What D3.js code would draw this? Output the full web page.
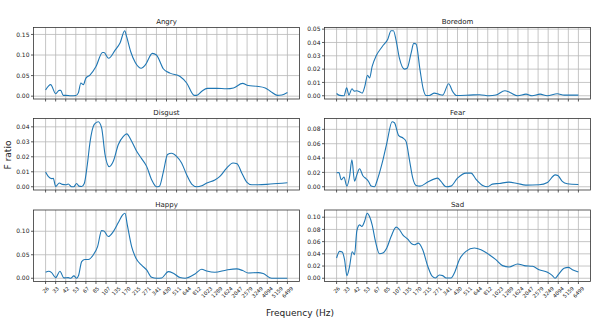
<!DOCTYPE html>
<html lang="en">
<head>
    <meta charset="UTF-8">
    <title>F ratio by frequency</title>
    <style>
        body { margin: 0; background: #ffffff; }
        svg { display: block; font-family: "DejaVu Sans", sans-serif; }
    </style>
    <script src="https://d3js.org/d3.v7.min.js"></script>
</head>
<body>
    <svg width="600" height="320"></svg>
    <script>
        // frequency band labels (evenly spaced on the x axis)
        const freqLabels = ["26", "33", "42", "53", "67", "85", "107", "135", "170", "215", "271", "341",
            "430", "511", "644", "812", "1023", "1289", "1624", "2047", "2579", "3249", "4094", "5159", "6499"];

        // each series: [band position, F ratio]
        const angry = [[0,0.015],[0.5,0.028],[1,0.006],[1.35,0.014],[1.5,0.014],[1.75,0.002],[2,0.002],[2.5,0.001],
            [3,0.0015],[3.25,0.008],[3.5,0.032],[3.75,0.028],[4,0.044],[4.4,0.051],[5,0.072],[5.65,0.106],[5.8,0.106],
            [6.25,0.092],[6.9,0.112],[7.4,0.13],[7.85,0.159],[8.05,0.144],[8.45,0.108],[8.9,0.082],[9.5,0.068],
            [9.9,0.076],[10.6,0.104],[11,0.1],[11.7,0.066],[12.35,0.056],[13.35,0.048],[14,0.032],[14.75,0.002],
            [15,0.002],[15.5,0.012],[16.05,0.019],[17,0.019],[17.95,0.018],[18.65,0.02],[19.55,0.031],[20.1,0.026],
            [20.95,0.024],[21.8,0.02],[22.3,0.012],[23,0.002],[23.45,0.003],[24,0.009]];
        const boredom = [[0,0.0017],[0.3,0.0003],[0.73,0],[1,0.006],[1.22,0.0005],[1.52,0.0052],[1.75,0.0035],
            [2,0.0037],[2.28,0.003],[2.54,0.002],[2.8,0.007],[3.07,0.0154],[3.27,0.0134],[3.53,0.022],[3.93,0.03],
            [4.52,0.0368],[5.08,0.0425],[5.41,0.0488],[5.64,0.0488],[5.9,0.0418],[6.24,0.028],[6.73,0.02],[7,0.0206],
            [7.39,0.0318],[7.66,0.0393],[7.89,0.0388],[8.28,0.0194],[8.6,0.005],[8.88,0.0002],[9.2,0.0002],[9.7,0.002],
            [10.2,0.001],[10.53,0.0005],[11.12,0.009],[11.52,0.0032],[11.9,0.0002],[13.2,0.0005],[14.2,0.0008],
            [15.15,0],[15.8,0.0005],[16.7,0.0037],[17.2,0.0025],[17.97,0],[18.8,0.0012],[19.4,0],[20.2,0.0012],
            [20.9,0],[21.9,0.0015],[22.6,0.0005],[24,0.0005]];
        const disgust = [[0,0.0098],[0.26,0.0069],[0.6,0.0054],[0.76,0.0056],[1,0.0002],[1.36,0.0025],[1.66,0.0016],
            [2,0.0013],[2.25,0.0018],[2.58,0],[2.8,0],[3.08,0.0022],[3.31,0.0004],[3.58,0.0002],[3.84,0.0022],
            [4.14,0.0147],[4.4,0.0293],[4.83,0.0416],[5.23,0.0434],[5.56,0.0393],[5.9,0.0215],[6.32,0.0134],
            [6.72,0.017],[7.22,0.0282],[7.72,0.0337],[8.05,0.0353],[8.54,0.0304],[9.04,0.0237],[9.53,0.0188],
            [10.03,0.0136],[10.52,0.0047],[11,0],[11.3,0.0004],[11.7,0.0103],[12.1,0.0215],[12.5,0.0224],[13,0.0203],
            [13.5,0.0159],[14,0.008],[14.5,0.0018],[15,0],[15.5,0.0007],[16,0.0025],[16.8,0.0045],[17.3,0.0069],
            [17.97,0.0125],[18.6,0.0159],[19,0.0154],[19.47,0.0092],[19.96,0.0031],[20.46,0.0013],[21.1,0.0013],
            [22.3,0.0018],[24,0.0027]];
        const fear = [[0,0.0194],[0.23,0.0199],[0.46,0.0097],[0.73,0.0134],[1.02,0.0009],[1.29,0.0143],[1.52,0.0375],
            [1.78,0.0079],[2.01,0.0166],[2.28,0.025],[2.61,0.0153],[2.94,0.0111],[3.17,0.0074],[3.43,0.0009],[3.76,0],
            [3.99,0.0074],[4.52,0.0328],[4.98,0.0606],[5.51,0.0906],[5.74,0.0892],[6.17,0.0712],[6.63,0.0675],
            [6.9,0.0629],[7.23,0.0375],[7.56,0.012],[7.89,0.0018],[8.28,0.0009],[9.04,0.0065],[10.03,0.012],
            [10.36,0.0074],[10.86,0],[11.35,0.0009],[12,0.012],[12.85,0.019],[13.35,0.019],[13.8,0.0111],[14.5,0.0018],
            [14.98,0],[15.47,0.0037],[16.13,0.0046],[17.1,0.0065],[17.93,0.0046],[18.78,0.0023],[20.1,0.0028],
            [20.93,0.006],[21.7,0.0166],[21.96,0.0157],[22.4,0.0074],[22.9,0.0042],[24,0.0032]];
        const happy = [[0,0.0128],[0.3,0.0149],[0.6,0.012],[1,0.0014],[1.42,0.0149],[1.82,0.0007],[2.25,0.0014],
            [2.48,0],[2.81,0.005],[3.08,0],[3.28,0.0064],[3.58,0.0355],[3.9,0.04],[4.24,0.04],[4.73,0.0496],[5.16,0.0674],
            [5.56,0.1014],[5.79,0.1007],[6.22,0.0887],[6.72,0.0993],[7.22,0.1184],[7.65,0.1348],[7.88,0.1383],
            [8.11,0.1135],[8.54,0.0674],[8.97,0.0426],[9.53,0.0277],[10.03,0.0177],[10.52,0.0021],[11.02,0],
            [11.52,0.0007],[12.18,0.0142],[12.68,0.0106],[13.34,0.0014],[13.84,0],[14.83,0.0092],[15.49,0.0191],
            [15.99,0.0156],[16.8,0.0128],[17.97,0.0177],[18.97,0.0199],[19.56,0.0163],[20.1,0.0113],[21.1,0.012],
            [21.6,0.0099],[22.44,0],[24,0]];
        const sad = [[0,0.0332],[0.3,0.044],[0.56,0.0429],[0.79,0.0304],[1.02,0.0043],[1.29,0.0196],[1.55,0.0435],
            [1.78,0.0386],[2.01,0.0777],[2.28,0.0875],[2.51,0.0848],[2.77,0.0929],[3.04,0.1065],[3.27,0.1011],
            [3.53,0.0875],[3.86,0.0603],[4.26,0.0402],[4.59,0.0413],[4.98,0.0495],[5.41,0.0685],[5.91,0.0837],
            [6.17,0.081],[6.57,0.0712],[7.06,0.0641],[7.49,0.056],[7.72,0.0549],[8.12,0.0576],[8.55,0.0467],
            [9.05,0.0196],[9.48,0.0033],[9.81,0.0005],[10.2,0.0054],[10.53,0.0043],[10.86,0.0005],[11.36,0.0005],
            [11.69,0.0087],[12.18,0.0304],[12.84,0.044],[13.67,0.0495],[14.33,0.0467],[15.15,0.0386],[15.81,0.0304],
            [16.47,0.0207],[17.13,0.0185],[17.96,0.0234],[18.62,0.0207],[19.44,0.0196],[20.1,0.0141],[20.93,0.0098],
            [21.42,0.0043],[21.68,0],[22.01,0.006],[22.57,0.0163],[23,0.0179],[23.4,0.0141],[24,0.0103]];

        // y tick values per panel
        const angryTicks = [0, 0.05, 0.10, 0.15];
        const boredomTicks = [0, 0.01, 0.02, 0.03, 0.04, 0.05];
        const disgustTicks = [0, 0.01, 0.02, 0.03, 0.04];
        const fearTicks = [0, 0.02, 0.04, 0.06, 0.08];
        const happyTicks = [0, 0.05, 0.10];
        const sadTicks = [0, 0.02, 0.04, 0.06, 0.08, 0.10];

        const panels = [
            { title: "Angry", data: angry, ticks: angryTicks },
            { title: "Boredom", data: boredom, ticks: boredomTicks },
            { title: "Disgust", data: disgust, ticks: disgustTicks },
            { title: "Fear", data: fear, ticks: fearTicks },
            { title: "Happy", data: happy, ticks: happyTicks },
            { title: "Sad", data: sad, ticks: sadTicks }
        ];

        const svg = d3.select("svg");
        const colLeft = [33.5, 324.5];
        const rowTop = [27.5, 118.5, 210];
        const pw = 266, ph = 71.5;
        const n = freqLabels.length;

        panels.forEach((p, i) => {
            const col = i % 2, row = Math.floor(i / 2);
            const g = svg.append("g")
                .attr("transform", `translate(${colLeft[col]},${rowTop[row]})`);

            // matplotlib-like 5% margins
            const x = d3.scaleLinear()
                .domain([-0.05 * (n - 1), (n - 1) * 1.05])
                .range([0, pw]);
            const ymax = d3.max(p.data, d => d[1]);
            const ymin = d3.min(p.data, d => d[1]);
            const pad = (ymax - ymin) * 0.05;
            const y = d3.scaleLinear()
                .domain([ymin - pad, ymax + pad])
                .range([ph, 0]);

            // grid
            g.selectAll(".vg").data(d3.range(n)).join("line")
                .attr("x1", d => x(d)).attr("x2", d => x(d))
                .attr("y1", 0).attr("y2", ph)
                .attr("stroke", "#b8b8b8").attr("stroke-width", 0.8);
            g.selectAll(".hg").data(p.ticks).join("line")
                .attr("x1", 0).attr("x2", pw)
                .attr("y1", d => y(d)).attr("y2", d => y(d))
                .attr("stroke", "#b8b8b8").attr("stroke-width", 0.8);

            // line
            const line = d3.line()
                .x(d => x(d[0]))
                .y(d => y(d[1]))
                .curve(d3.curveMonotoneX);
            g.append("path")
                .datum(p.data)
                .attr("d", line)
                .attr("fill", "none")
                .attr("stroke", "#1f77b4")
                .attr("stroke-width", 1.1);

            // frame
            g.append("rect")
                .attr("width", pw).attr("height", ph)
                .attr("fill", "none")
                .attr("stroke", "#333")
                .attr("stroke-width", 0.8);

            // y ticks
            const yt = g.selectAll(".yt").data(p.ticks).join("g")
                .attr("transform", d => `translate(0,${y(d)})`);
            yt.append("line").attr("x1", -2.5).attr("x2", 0).attr("stroke", "#333").attr("stroke-width", 0.8);
            yt.append("text")
                .attr("x", -4)
                .attr("dy", "0.35em")
                .attr("text-anchor", "end")
                .attr("font-size", 6)
                .attr("fill", "#222")
                .text(d => d3.format(".2f")(d));

            // x ticks
            g.selectAll(".xt").data(d3.range(n)).join("line")
                .attr("x1", d => x(d)).attr("x2", d => x(d))
                .attr("y1", ph).attr("y2", ph + 2.5)
                .attr("stroke", "#333").attr("stroke-width", 0.8);

            // x tick labels only on bottom row
            if (row === 2) {
                g.selectAll(".xl").data(freqLabels).join("text")
                    .attr("text-anchor", "middle")
                    .attr("dominant-baseline", "central")
                    .attr("font-size", 5.2)
                    .attr("fill", "#222")
                    .text(d => d)
                    .each(function (d, k) {
                        const w = this.getComputedTextLength();
                        const h = 5.5;
                        const half = (w + h) * 0.7071 / 2;
                        const cx = x(k), cy = ph + 4 + half;
                        d3.select(this)
                            .attr("x", cx).attr("y", cy)
                            .attr("transform", `rotate(-45,${cx},${cy})`);
                    });
            }

            // title
            g.append("text")
                .attr("x", pw / 2)
                .attr("y", -3.5)
                .attr("text-anchor", "middle")
                .attr("font-size", 7)
                .attr("fill", "#222")
                .text(p.title);
        });

        svg.append("text")
            .attr("transform", "translate(11,155) rotate(-90)")
            .attr("text-anchor", "middle")
            .attr("font-size", 9)
            .attr("fill", "#222")
            .text("F ratio");

        svg.append("text")
            .attr("x", 300)
            .attr("y", 316)
            .attr("text-anchor", "middle")
            .attr("font-size", 9)
            .attr("fill", "#222")
            .text("Frequency (Hz)");
    </script>
</body>
</html>
